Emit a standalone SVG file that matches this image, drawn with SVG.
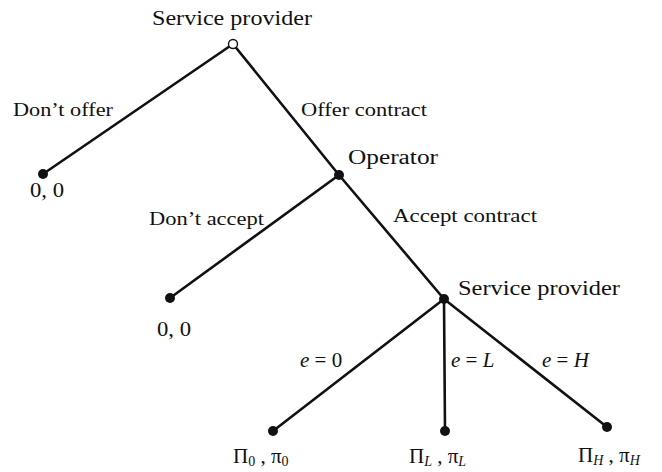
<svg xmlns="http://www.w3.org/2000/svg" width="662" height="472" viewBox="0 0 662 472">
  <style>
    text { font-family: "Liberation Serif", "DejaVu Serif", serif; font-size: 20px; fill: #111; }
    .lbl { font-size: 19px; }
    .eq { font-size: 21px; }
    .pay { font-size: 21px; }
    .it { font-style: italic; }
    .sub { font-size: 14px; }
    .edge { stroke: #111; stroke-width: 2.6; stroke-linecap: round; fill: none; }
    .dot { fill: #111; }
  </style>
  <rect width="662" height="472" fill="#fff"/>

  <g id="connectors">
    <line class="edge" x1="233" y1="44" x2="43" y2="174"/>
    <line class="edge" x1="233" y1="44" x2="339" y2="175"/>
    <line class="edge" x1="339" y1="175" x2="170" y2="298"/>
    <line class="edge" x1="339" y1="175" x2="444" y2="299"/>
    <line class="edge" x1="444" y1="299" x2="273" y2="431"/>
    <line class="edge" x1="444" y1="299" x2="445" y2="431"/>
    <line class="edge" x1="444" y1="299" x2="607" y2="427"/>
  </g>

  <g id="edge-labels">
    <text class="lbl" x="13" y="116" textLength="100" lengthAdjust="spacingAndGlyphs">Don’t offer</text>
    <text class="lbl" x="301" y="116" textLength="126" lengthAdjust="spacingAndGlyphs">Offer contract</text>
    <text class="lbl" x="149" y="225" textLength="115" lengthAdjust="spacingAndGlyphs">Don’t accept</text>
    <text class="lbl" x="393" y="222" textLength="144" lengthAdjust="spacingAndGlyphs">Accept contract</text>
    <text class="eq" x="300" y="367"><tspan class="it">e</tspan> = 0</text>
    <text class="eq" x="451" y="367"><tspan class="it">e</tspan> = <tspan class="it">L</tspan></text>
    <text class="eq" x="542" y="367"><tspan class="it">e</tspan> = <tspan class="it">H</tspan></text>
  </g>

  <g id="root">
    <circle cx="233" cy="44" r="4.5" fill="#fff" stroke="#111" stroke-width="1.4"/>
    <text x="152" y="25" textLength="160" lengthAdjust="spacingAndGlyphs">Service provider</text>
  </g>

  <g id="leaf-no-offer">
    <circle class="dot" cx="43" cy="174" r="5"/>
    <text x="30" y="197" textLength="34" lengthAdjust="spacingAndGlyphs">0, 0</text>
  </g>

  <g id="operator">
    <circle class="dot" cx="339" cy="175" r="5"/>
    <text x="348" y="164" textLength="90" lengthAdjust="spacingAndGlyphs">Operator</text>
  </g>

  <g id="leaf-no-accept">
    <circle class="dot" cx="170" cy="298" r="5"/>
    <text x="157" y="336" textLength="34" lengthAdjust="spacingAndGlyphs">0, 0</text>
  </g>

  <g id="provider">
    <circle class="dot" cx="444" cy="299" r="5"/>
    <text x="458" y="295" textLength="162" lengthAdjust="spacingAndGlyphs">Service provider</text>
  </g>

  <g id="leaf-zero">
    <circle class="dot" cx="273" cy="431" r="5"/>
    <text class="pay" x="233" y="463">Π<tspan class="sub" dy="3">0</tspan><tspan dy="-3"> , π</tspan><tspan class="sub" dy="3">0</tspan></text>
  </g>

  <g id="leaf-low">
    <circle class="dot" cx="445" cy="431" r="5"/>
    <text class="pay" x="409" y="463">Π<tspan class="sub it" dy="3">L</tspan><tspan dy="-3"> , π</tspan><tspan class="sub it" dy="3">L</tspan></text>
  </g>

  <g id="leaf-high">
    <circle class="dot" cx="607" cy="427" r="5"/>
    <text class="pay" x="578" y="462">Π<tspan class="sub it" dy="3">H</tspan><tspan dy="-3"> , π</tspan><tspan class="sub it" dy="3">H</tspan></text>
  </g>
</svg>
